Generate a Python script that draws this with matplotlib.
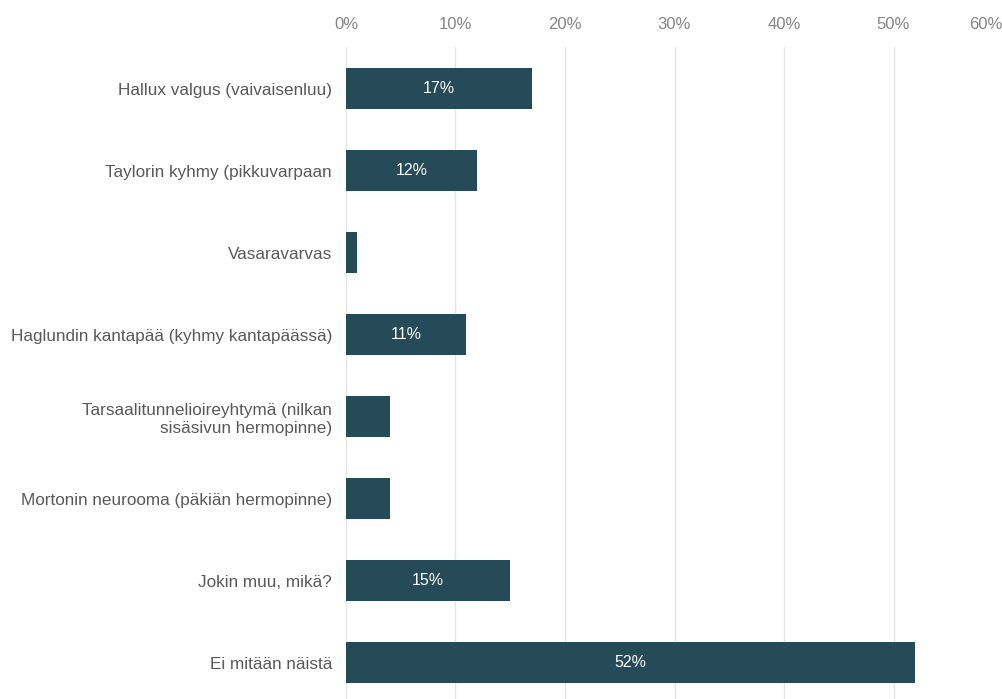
import matplotlib.pyplot as plt
from matplotlib.ticker import PercentFormatter

plt.rcParams['font.family'] = ['Liberation Sans', 'DejaVu Sans']

categories = [
    "Hallux valgus (vaivaisenluu)",
    "Taylorin kyhmy (pikkuvarpaan",
    "Vasaravarvas",
    "Haglundin kantapää (kyhmy kantapäässä)",
    "Tarsaalitunnelioireyhtymä (nilkan\nsisäsivun hermopinne)",
    "Mortonin neurooma (päkiän hermopinne)",
    "Jokin muu, mikä?",
    "Ei mitään näistä",
]
values = [17, 12, 1, 11, 4, 4, 15, 52]
# bars narrower than this get no value label
label_min = 10

bar_color = '#254b59'

fig = plt.figure(figsize=(10.03, 6.99), dpi=100)
ax = fig.add_axes([346 / 1003, 0, 657 / 1003, (699 - 47) / 699])

pos = list(range(len(categories)))
ax.barh(pos, values, height=0.5, color=bar_color, zorder=3)

for p, v in zip(pos, values):
    if v >= label_min:
        ax.text(v / 2, p, f"{v}%", ha='center', va='center',
                color='white', fontsize=11.5, zorder=4)

ax.set_xlim(0, 60)
ax.set_ylim(len(categories) - 0.56, -0.51)
ax.set_yticks(pos)
ax.set_yticklabels(categories, fontsize=12.3, color='#595959')
ax.set_xticks(range(0, 61, 10))
ax.xaxis.set_major_formatter(PercentFormatter(decimals=0))
ax.xaxis.tick_top()
ax.tick_params(axis='x', length=0, pad=11, labelsize=12, labelcolor='#858585')
ax.tick_params(axis='y', length=0, pad=10)
xlabels = ax.get_xticklabels()
xlabels[-1].set_horizontalalignment('right')

ax.grid(axis='x', color='#e4e4e4', linewidth=1, zorder=0)
for s in ax.spines.values():
    s.set_visible(False)

fig.savefig('out.png', dpi=100)
